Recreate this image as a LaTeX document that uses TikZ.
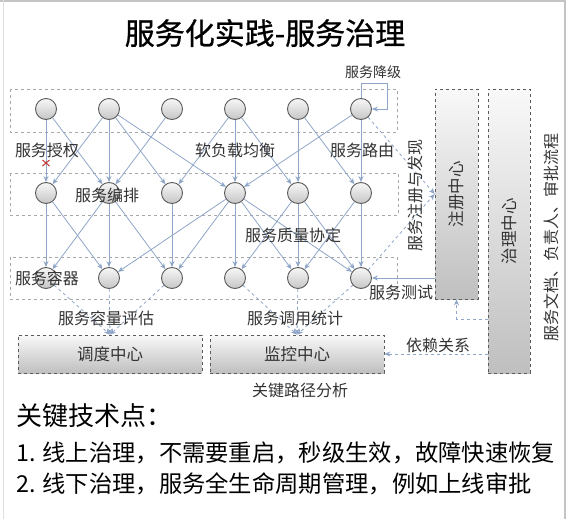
\documentclass[tikz,border=0pt]{standalone}
\usepackage{fontspec}
\setmainfont{Noto Sans CJK SC}
\newfontfamily\titlefont[FakeBold=0.8]{Noto Sans CJK SC}
\usetikzlibrary{arrows.meta}
\definecolor{lineblue}{HTML}{8FA6C8}
\definecolor{txt}{HTML}{333333}
\definecolor{boxline}{HTML}{5A5A5A}
\definecolor{rowline}{HTML}{A8A8A8}
\definecolor{framegray}{HTML}{C4C4C4}
\begin{document}
\begin{tikzpicture}[x=1pt,y=-1pt,
  circ/.style={circle,draw=boxline,line width=0.9pt,minimum size=21pt,inner sep=0pt,top color=gray!6,bottom color=gray!45},
  rowbox/.style={draw=rowline,dashed,line width=0.7pt},
  flow/.style={draw=lineblue,line width=0.8pt,-{Stealth[length=6pt,width=5pt]}},
  dflow/.style={flow,dashed},
  lbl/.style={text=txt,font=\fontsize{16}{16}\selectfont,inner sep=0pt},
  centre/.style={draw=boxline,dashed,line width=0.8pt,top color=gray!5,bottom color=gray!50,font=\fontsize{16.5}{16.5}\selectfont,text=txt,inner sep=0pt}
]
\useasboundingbox (0,0) rectangle (573,519);
\fill[white] (0,0) rectangle (573,519);
% slide frame
\draw[framegray,line width=2pt] (0,1) -- (566,1);
\draw[framegray,line width=2.5pt] (565,0) -- (565,519);
\draw[gray!25,line width=0.8pt] (3,0) -- (3,519);

% title
\node[font=\fontsize{30}{30}\titlefont,inner sep=0pt] (title) at (265,33) {服务化实践-服务治理};

% row boxes
\draw[rowbox] (10,89) rectangle (397,132);
\draw[rowbox] (10,173) rectangle (398,215);
\draw[rowbox] (10,257) rectangle (397,299);

% circles
\foreach \i/\x in {1/46,2/109,3/172,4/235,5/298,6/361} {
  \node[circ] (A\i) at (\x,109) {};
  \node[circ] (B\i) at (\x,193) {};
  \node[circ] (C\i) at (\x,278) {};
}

% centres
\node[centre,minimum width=43pt,minimum height=210pt] (zc) at (456.5,194) {\rotatebox{90}{注册中心}};
\node[centre,minimum width=42pt,minimum height=284pt] (zl) at (509,231) {\rotatebox{90}{治理中心}};
\node[centre,minimum width=184pt,minimum height=38pt] (dd) at (110,354) {调度中心};
\node[centre,minimum width=174pt,minimum height=38pt] (jk) at (297,354) {监控中心};

% top layer -> middle layer
\foreach \s/\t in {A1/B1,A1/B2,A2/B1,A2/B2,A2/B3,A2/B4,A3/B2,A4/B3,A4/B4,A4/B5,A5/B5,A5/B6,A6/B4,A6/B6}
  \draw[flow] (\s) -- (\t);
% middle layer -> bottom layer
\foreach \s/\t in {B1/C1,B1/C2,B2/C1,B2/C2,B2/C3,B3/C3,B4/C2,B4/C3,B4/C4,B4/C5,B4/C6,B5/C4,B5/C5,B5/C6,B6/C5,B6/C6}
  \draw[flow] (\s) -- (\t);

% degrade loop
\coordinate (loopc) at (387,83);
\draw[flow] (A6.north) |- (loopc) |- (A6.east);

% registration / discovery
\draw[dflow] (A6) -- (zc.west);
\draw[dflow] (C6) -- (zc.west);

% service test
\draw[flow] (zc.west |- C6) -- (C6.east);

% to scheduling / monitoring
\foreach \s in {C1,C2,C3} \draw[dflow] (\s) -- (dd.north);
\foreach \s in {C4,C5,C6} \draw[dflow] (\s) -- (jk.north);

% governance links
\coordinate (gv) at (0,319);
\draw[dflow] (zl.west |- gv) -| (zc.south);
\draw[dflow] (zl.west |- jk) -- (jk.east);

% red cross
\draw[red!70!black!80,line width=1pt] (42.5,160) -- (49.5,166) (42.5,166) -- (49.5,160);

% labels
\node[lbl,font=\fontsize{14}{14}\selectfont] (l0) at (373,72) {服务降级};
\node[lbl] (l1) at (47,150) {服务授权};
\node[lbl] (l2) at (235,150) {软负载均衡};
\node[lbl] (l3) at (362,150) {服务路由};
\node[lbl] (l4) at (107,195) {服务编排};
\node[lbl] (l5) at (293,235) {服务质量协定};
\node[lbl,rotate=90] (l6) at (415,195) {服务注册与发现};
\node[lbl] (l7) at (47,278) {服务容器};
\node[lbl] (l8) at (106,318) {服务容量评估};
\node[lbl] (l9) at (295,318) {服务调用统计};
\node[lbl] (l10) at (401,292) {服务测试};
\node[lbl] (l11) at (438,345) {依赖关系};
\node[lbl] (l12) at (300,390) {关键路径分析};
\node[lbl,rotate=90] (l13) at (551,237) {服务文档、负责人、审批流程};

% key points
\node[anchor=west,inner sep=0pt,font=\fontsize{26}{26}\selectfont] (k0) at (16,416) {关键技术点：};
\node[anchor=west,inner sep=0pt,font=\fontsize{23.3}{23.3}\selectfont] (k1) at (16,453) {1. 线上治理，不需要重启，秒级生效，故障快速恢复};
\node[anchor=west,inner sep=0pt,font=\fontsize{23.3}{23.3}\selectfont] (k2) at (16,484) {2. 线下治理，服务全生命周期管理，例如上线审批};
\end{tikzpicture}
\end{document}
